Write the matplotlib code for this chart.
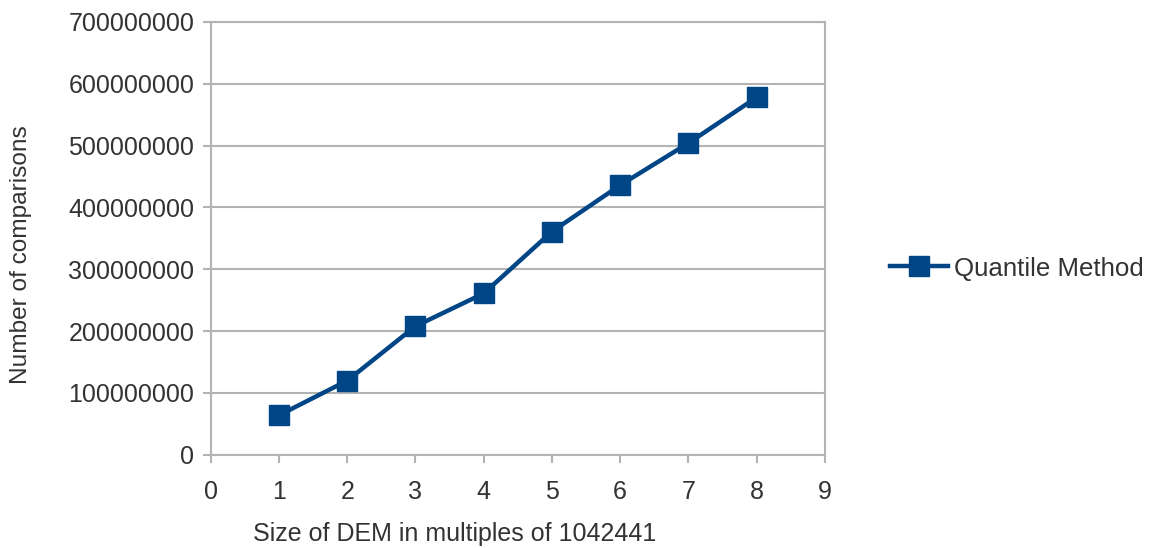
import numpy as np
import matplotlib.pyplot as plt

plt.rcParams['font.family'] = ['Liberation Sans', 'DejaVu Sans']

# Data
sizes = [1, 2, 3, 4, 5, 6, 7, 8]
comparisons = [64e6, 120e6, 208e6, 261e6, 361e6, 436e6, 504e6, 578e6]
series_name = 'Quantile Method'

line_color = '#004586'
grid_color = '#b3b3b3'
text_color = '#333333'

fig = plt.figure(figsize=(11.52, 5.48), dpi=100)
ax = fig.add_axes([0.183, 0.17, 0.533, 0.79])

ax.plot(sizes, comparisons, color=line_color, lw=3.2, marker='s', ms=15,
        label=series_name, zorder=3)

ax.set_xlim(0, 9)
ax.set_ylim(0, 700000000)
ax.set_xticks(range(0, 10))
ax.set_yticks(np.arange(0, 700000001, 100000000))
ax.yaxis.set_major_formatter(plt.FuncFormatter(lambda v, p: f'{int(v)}'))

ax.grid(axis='y', color=grid_color, lw=1.5, zorder=0)
for s in ax.spines.values():
    s.set_color(grid_color)
    s.set_linewidth(1.5)

ax.tick_params(axis='both', colors=grid_color, labelcolor=text_color,
               labelsize=18, width=1.5, length=6)
ax.tick_params(axis='y', pad=6)
ax.tick_params(axis='x', pad=12)

ax.set_xlabel('Size of DEM in multiples of 1042441', fontsize=18,
              color=text_color)
ax.set_ylabel('Number of comparisons', fontsize=17.6, color=text_color)
ax.xaxis.set_label_coords(0.397, -0.155)
ax.yaxis.set_label_coords(-0.292, 0.462)

fig.legend(loc='center left', bbox_to_anchor=(0.752, 0.51), frameon=False,
           fontsize=18.6, handlelength=2.25, handletextpad=0.25, labelcolor=text_color)

plt.savefig('out.png', dpi=100)
